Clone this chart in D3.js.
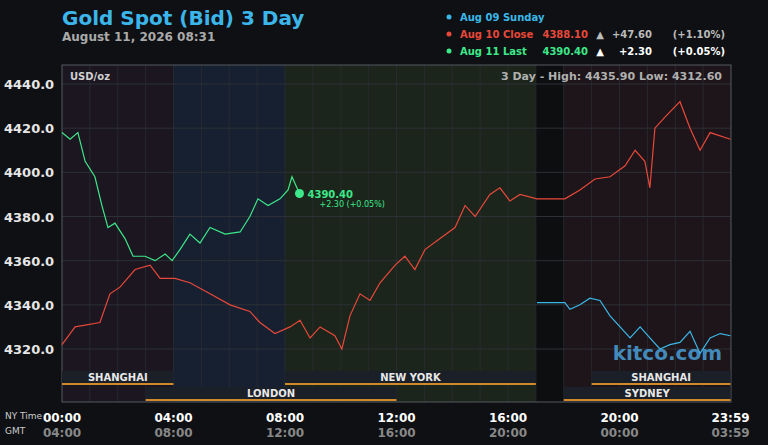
<!DOCTYPE html><html><head><meta charset="utf-8"><script src="https://cdn.jsdelivr.net/npm/d3@7"></script>
<style>body{margin:0;background:#0e1013;}svg{display:block;font-family:"DejaVu Sans",sans-serif;}</style></head><body><svg id="c" width="768" height="445"></svg><script>
const redH=[0,.47,1.36,1.72,2.08,2.62,3.16,3.52,4.05,4.59,5.31,6.03,6.74,7.10,7.64,8.18,8.54,8.90,9.26,9.79,10.04,10.33,10.69,11.05,11.41,11.95,12.30,12.66,13.02,13.56,14.10,14.46,14.82,15.35,15.71,16.07,16.43,17.04,18.04,18.58,19.12,19.66,20.20,20.56,20.91,21.09,21.27,21.63,22.17,22.53,22.89,23.25,23.98];
const redY=[4322,4330,4332,4345,4348,4356,4358,4352,4352,4350,4345,4340,4337,4332,4327,4330,4333,4325,4330,4326,4320,4335,4345,4342,4350,4358,4362,4356,4365,4370,4375,4385,4380,4390,4393,4387,4390,4388,4388,4392,4397,4398,4403,4410,4405,4393,4420,4425,4432,4420,4410,4418,4415];
const greenH=[0,.29,.57,.83,1.18,1.43,1.65,1.90,2.26,2.55,2.98,3.34,3.70,3.95,4.23,4.59,4.95,5.31,5.85,6.39,6.74,7.03,7.39,7.82,8.11,8.25,8.52];
const greenY=[4418,4415,4418,4405,4398,4385,4375,4377,4370,4362,4362,4360,4363,4360,4365,4372,4368,4375,4372,4373,4380,4388,4385,4388,4392,4398,4390.4];
const blueH=[17.04,18.04,18.22,18.58,18.94,19.30,19.66,20.02,20.38,20.74,21.09,21.45,21.81,22.17,22.53,22.89,23.25,23.61,23.98];
const blueY=[4341,4341,4338,4340,4343,4342,4335,4330,4325,4330,4325,4320,4322,4323,4328,4318,4325,4327,4326];
const priceTicks=[4320,4340,4360,4380,4400,4420,4440];
const timeTicks=["00:00","04:00","08:00","12:00","16:00","20:00","23:59"];
const gmtTicks=["04:00","08:00","12:00","16:00","20:00","00:00","03:59"];
const tickHours=[0,4,8,12,16,20,23.983];
const sessionsTop=[["SHANGHAI",0,4],["NEW YORK",8,17],["SHANGHAI",19,23.983]];
const sessionsBot=[["LONDON",3,12],["SYDNEY",18,23.983]];
const legendNames=["Aug 09 Sunday","Aug 10 Close","Aug 11 Last"];
const legendPrice=["","4388.10","4390.40"];
const legendChg=["","+47.60","+2.30"];
const legendPct=["","(+1.10%)","(+0.05%)"];
const colors=["#3ab8e8","#e8483a","#3de88a"];
const svg=d3.select("#c");
const x=d3.scaleLinear().domain([0,24]).range([62,731]);
const y=d3.scaleLinear().domain([4320,4440]).range([349,84]);
const T=65,B=402;
const shades=[[0,4,"#1b1620"],[4,8,"#172030"],[8,17,"#1b251b"],[17,18,"#0d0e10"],[18,24,"#1d1519"]];
shades.forEach(s=>svg.append("rect").attr("x",x(s[0])).attr("y",T).attr("width",x(s[1])-x(s[0])).attr("height",B-T).attr("fill",s[2]));
for(let h=1;h<24;h++)svg.append("line").attr("x1",x(h)).attr("x2",x(h)).attr("y1",T).attr("y2",B).attr("stroke","#2a2d33").attr("stroke-width",0.8);
priceTicks.forEach(p=>{svg.append("line").attr("x1",62).attr("x2",731).attr("y1",y(p)).attr("y2",y(p)).attr("stroke","#2d3036");
svg.append("text").attr("x",4).attr("y",y(p)+5).attr("fill","#e6e6e6").attr("font-size",13).attr("font-weight","bold").text(p.toFixed(1));});
svg.append("rect").attr("x",62).attr("y",T).attr("width",669).attr("height",B-T).attr("fill","none").attr("stroke","#555a60");
function band(arr,y0){arr.forEach(s=>{svg.append("rect").attr("x",x(s[1])).attr("y",y0).attr("width",x(s[2])-x(s[1])).attr("height",14).attr("fill","#1b1f27");
svg.append("line").attr("x1",x(s[1])).attr("x2",x(s[2])).attr("y1",y0+13).attr("y2",y0+13).attr("stroke","#d08a2a").attr("stroke-width",2);
svg.append("text").attr("x",(x(s[1])+x(s[2]))/2).attr("y",y0+10).attr("text-anchor","middle").attr("fill","#e8e8e8").attr("font-size",10).attr("font-weight","bold").text(s[0]);});}
band(sessionsTop,371);band(sessionsBot,387);
const line=d3.line().x(d=>x(d[0])).y(d=>y(d[1]));
const mk=(X,Y)=>X.map((p,i)=>[p,Y[i]]);
svg.append("path").datum(mk(blueH,blueY)).attr("d",line).attr("fill","none").attr("stroke",colors[0]).attr("stroke-width",1.2);
svg.append("path").datum(mk(redH,redY)).attr("d",line).attr("fill","none").attr("stroke",colors[1]).attr("stroke-width",1.2);
svg.append("path").datum(mk(greenH,greenY)).attr("d",line).attr("fill","none").attr("stroke",colors[2]).attr("stroke-width",1.2);
const last=mk(greenH,greenY).slice(-1)[0];
svg.append("circle").attr("cx",x(last[0])).attr("cy",y(last[1])).attr("r",4.5).attr("fill",colors[2]);
svg.append("text").attr("x",x(last[0])+8).attr("y",y(last[1])+4).attr("fill",colors[2]).attr("font-size",10).attr("font-weight","bold").text("4390.40");
svg.append("text").attr("x",x(last[0])+20).attr("y",y(last[1])+13).attr("fill",colors[2]).attr("font-size",8).text("+2.30 (+0.05%)");
svg.append("text").attr("x",722).attr("y",360).attr("text-anchor","end").attr("fill","#4a9fd8").attr("font-size",20).attr("font-weight","bold").attr("opacity",0.85).text("kitco.com");
svg.append("text").attr("x",70).attr("y",80).attr("fill","#d0d0d0").attr("font-size",10).attr("font-weight","bold").text("USD/oz");
svg.append("text").attr("x",722).attr("y",80).attr("text-anchor","end").attr("fill","#b0b0b0").attr("font-size",11).attr("font-weight","bold").text("3 Day - High: 4435.90  Low: 4312.60");
svg.append("text").attr("x",62).attr("y",25).attr("fill","#3cb6ea").attr("font-size",20).attr("font-weight","bold").text("Gold Spot (Bid) 3 Day");
svg.append("text").attr("x",62).attr("y",41).attr("fill","#aaaaaa").attr("font-size",12).attr("font-weight","bold").text("August 11, 2026 08:31");
legendNames.forEach((n,i)=>{const yy=21+i*17;
svg.append("circle").attr("cx",449).attr("cy",yy-4).attr("r",2.5).attr("fill",colors[i]);
svg.append("text").attr("x",460).attr("y",yy).attr("fill",colors[i]).attr("font-size",10).attr("font-weight","bold").text(n);
if(legendPrice[i]){
svg.append("text").attr("x",588).attr("y",yy).attr("text-anchor","end").attr("fill",colors[i]).attr("font-size",10).attr("font-weight","bold").text(legendPrice[i]);
svg.append("text").attr("x",600).attr("y",yy).attr("text-anchor","middle").attr("fill",i==1?"#bbbbbb":"#ffffff").attr("font-size",10).text("▲");
svg.append("text").attr("x",652).attr("y",yy).attr("text-anchor","end").attr("fill",i==1?"#bbbbbb":"#ffffff").attr("font-size",10).attr("font-weight","bold").text(legendChg[i]);
svg.append("text").attr("x",725).attr("y",yy).attr("text-anchor","end").attr("fill",i==1?"#bbbbbb":"#ffffff").attr("font-size",10).attr("font-weight","bold").text(legendPct[i]);}});
tickHours.forEach((h,i)=>{
svg.append("text").attr("x",x(h)).attr("y",422).attr("text-anchor","middle").attr("fill","#ffffff").attr("font-size",12).attr("font-weight","bold").text(timeTicks[i]);
svg.append("text").attr("x",x(h)).attr("y",437).attr("text-anchor","middle").attr("fill","#888888").attr("font-size",12).attr("font-weight","bold").text(gmtTicks[i]);});
svg.append("text").attr("x",5).attr("y",419).attr("fill","#cccccc").attr("font-size",9).text("NY Time");
svg.append("text").attr("x",5).attr("y",434).attr("fill","#cccccc").attr("font-size",9).text("GMT");
</script></body></html>
